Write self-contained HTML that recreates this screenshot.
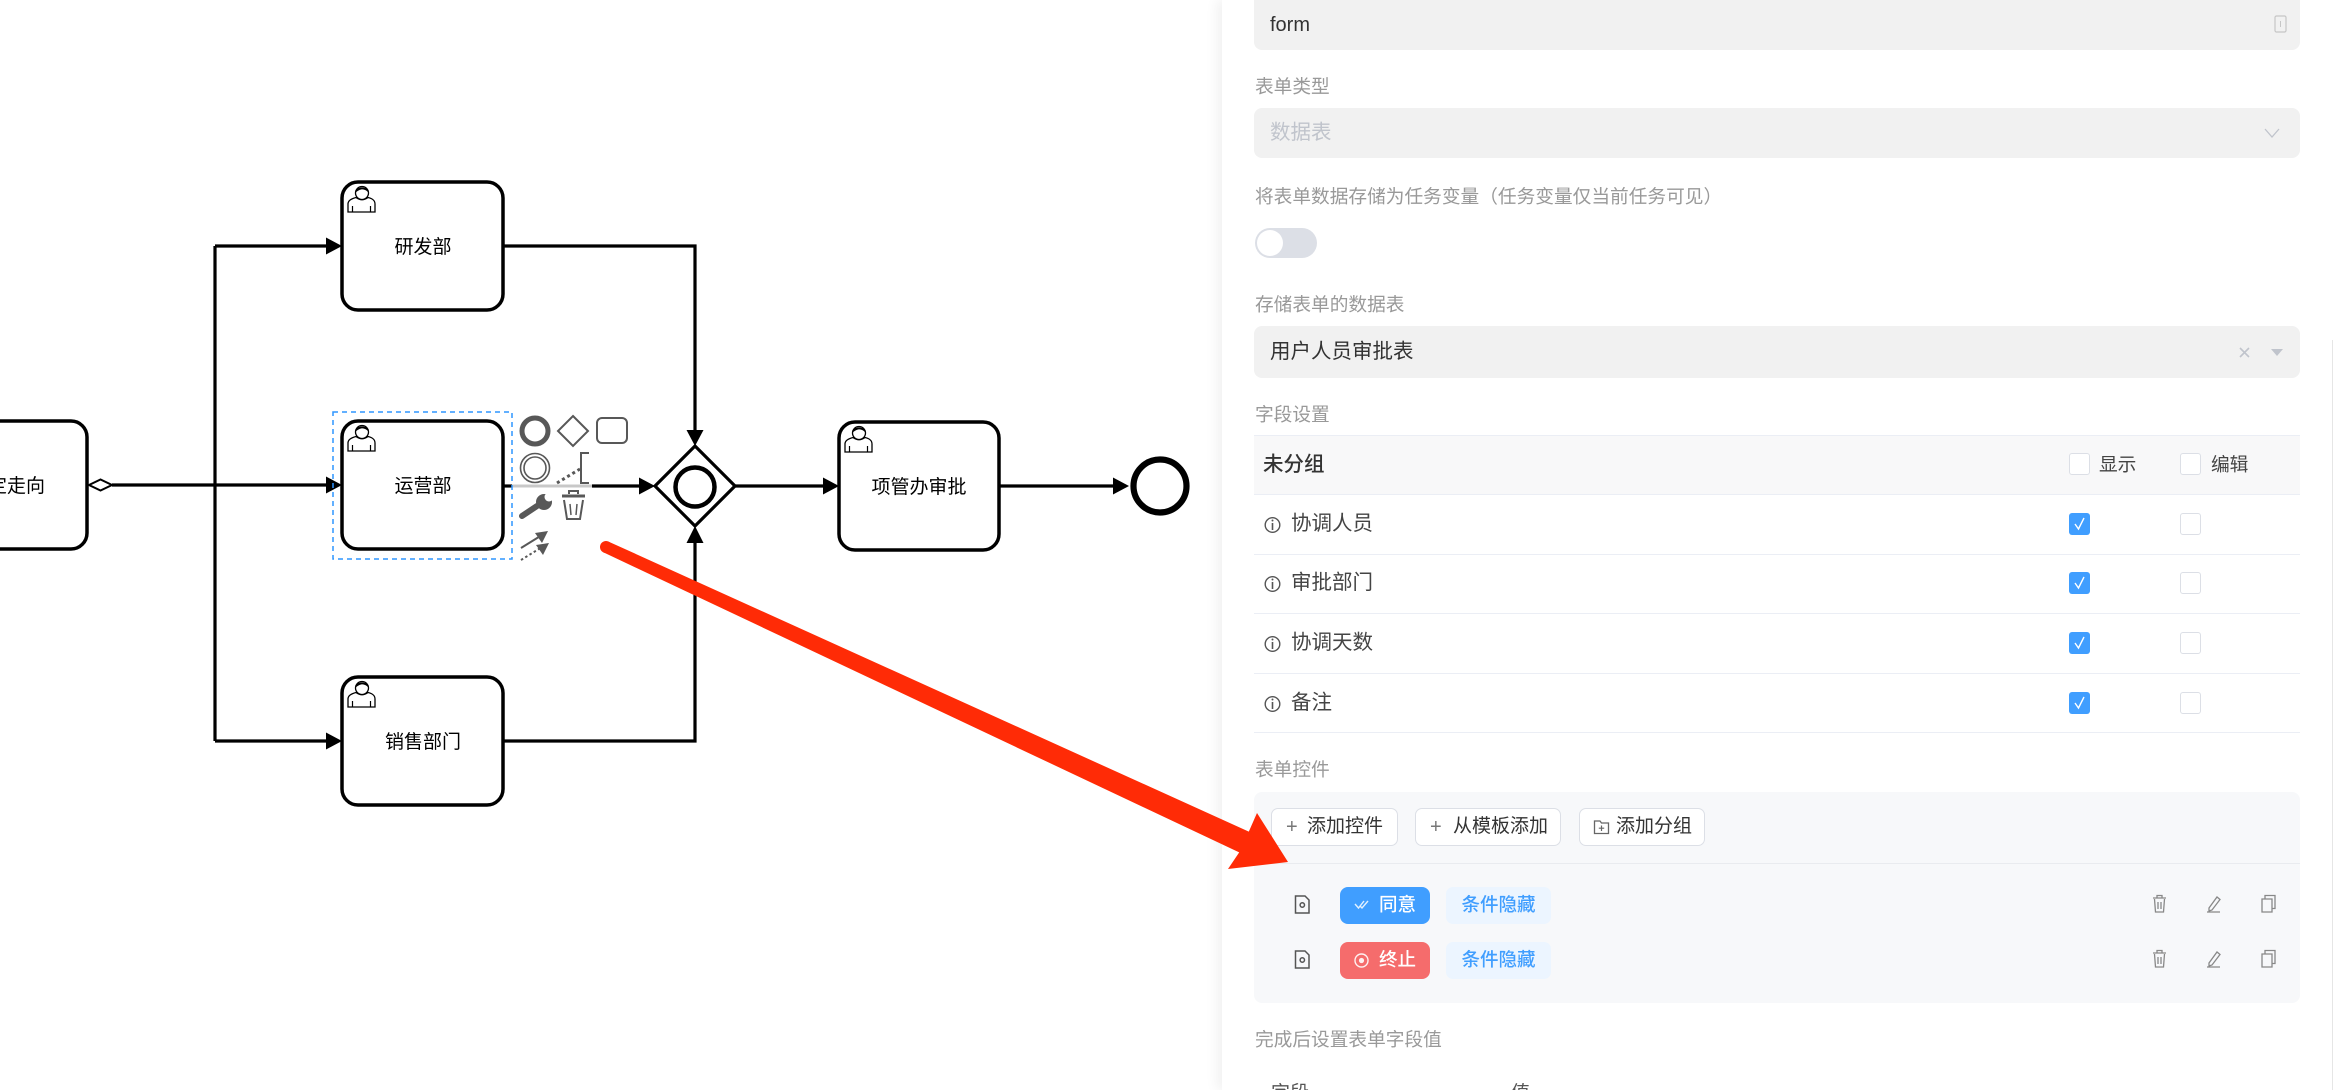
<!DOCTYPE html>
<html><head><meta charset="utf-8">
<style>
*{margin:0;padding:0;box-sizing:border-box}
html,body{width:2334px;height:1090px;overflow:hidden;background:#fff;font-family:"Liberation Sans","Noto Sans CJK SC",sans-serif;position:relative}
.a{position:absolute}
.t{position:absolute;height:30px;line-height:30px;white-space:nowrap}
.lbl{font-size:18.7px;color:#999}
.fld{position:absolute;left:1254px;width:1046px;background:#f1f1f1;border-radius:8px}
.cb{position:absolute;width:21px;height:22px;border:1px solid #dcdfe6;border-radius:3px;background:#fff}
.cbk{position:absolute;width:21px;height:22px;border-radius:3px;background:#409eff}
.row{position:absolute;left:1254px;width:1046px;height:1px;background:#ebeef5}
.rt{font-size:20.5px;color:#444}
.btn{position:absolute;top:808px;height:38px;background:#fff;border:1px solid #dcdfe6;border-radius:7px}
</style></head><body>

<!-- Diagram -->
<svg class="a" style="left:0;top:0" width="1222" height="1090" viewBox="0 0 1222 1090">
<defs>
<g id="user">
  <path d="M6,30 L6,22 C6,18 10,16.5 14,15.5 Q20,20 26,15.5 C30,16.5 33,18 33,22 L33,30 Z" fill="#fff" stroke="#000" stroke-width="1.3"/>
  <line x1="10.5" y1="24" x2="10.5" y2="30" stroke="#000" stroke-width="1.2"/>
  <line x1="28.5" y1="24" x2="28.5" y2="30" stroke="#000" stroke-width="1.2"/>
  <circle cx="20" cy="11" r="6.5" fill="#fff" stroke="#000" stroke-width="1.3"/>
  <path d="M13.5,11 C13,3.5 27,3.5 26.5,11 C25,8 21,7 19,7.5 C17,8 15,9 13.5,11 Z" fill="#000"/>
</g>
</defs>
<g font-family="Liberation Sans, Noto Sans CJK SC, sans-serif" font-size="19" text-anchor="middle" fill="#000">
<!-- lines -->
<g stroke="#000" stroke-width="3.2" fill="none">
  <path d="M112,485 H326"/>
  <path d="M215,246 V741"/>
  <path d="M215,246 H326"/>
  <path d="M215,741 H326"/>
  <path d="M503,246 H695 V430"/>
  <path d="M503,741 H695 V543"/>
  <path d="M503,486 H512"/>
  <path d="M592,486 H640"/>
  <path d="M735,486 H823"/>
  <path d="M999,486 H1113"/>
</g>
<path d="M512,486 H592" stroke="#c8c8c8" stroke-width="3"/>
<!-- arrowheads -->
<g fill="#000">
  <polygon points="326,237.5 342,246 326,254.5"/>
  <polygon points="326,476.5 342,485 326,493.5"/>
  <polygon points="326,732.5 342,741 326,749.5"/>
  <polygon points="686.5,430 695,446 703.5,430"/>
  <polygon points="686.5,543 695,526 703.5,543"/>
  <polygon points="639,477.5 655,486 639,494.5"/>
  <polygon points="823,477.5 839,486 823,494.5"/>
  <polygon points="1113,477.5 1129,486 1113,494.5"/>
</g>
<!-- conditional marker -->
<polygon points="89,485 100.5,479.5 112,485 100.5,490.5" fill="#fff" stroke="#000" stroke-width="2"/>

<!-- tasks -->
<rect x="-73" y="421" width="160" height="128" rx="16" fill="#fff" stroke="#000" stroke-width="3.5"/>
<text x="7" y="492">确定走向</text>

<rect x="342" y="182" width="161" height="128" rx="16" fill="#fff" stroke="#000" stroke-width="3.5"/>
<use href="#user" x="342" y="182"/>
<text x="423" y="253">研发部</text>

<rect x="342" y="421" width="161" height="128" rx="16" fill="#fff" stroke="#000" stroke-width="3.5"/>
<use href="#user" x="342" y="421"/>
<text x="423" y="492">运营部</text>

<rect x="342" y="677" width="161" height="128" rx="16" fill="#fff" stroke="#000" stroke-width="3.5"/>
<use href="#user" x="342" y="677"/>
<text x="423" y="748">销售部门</text>

<rect x="839" y="422" width="160" height="128" rx="16" fill="#fff" stroke="#000" stroke-width="3.5"/>
<use href="#user" x="839" y="422"/>
<text x="919" y="493">项管办审批</text>

<!-- gateway -->
<polygon points="695,446 735,486 695,526 655,486" fill="#fff" stroke="#000" stroke-width="3.2"/>
<circle cx="695" cy="487" r="19.5" fill="none" stroke="#000" stroke-width="4.5"/>

<!-- end event -->
<circle cx="1160" cy="486" r="26.5" fill="#fff" stroke="#000" stroke-width="6.2"/>

<!-- selection -->
<rect x="333" y="412" width="179" height="147" fill="none" stroke="#2f95ff" stroke-width="1.5" stroke-dasharray="5,4"/>

<!-- context pad -->
<g stroke="#585858" fill="none">
  <circle cx="535" cy="431" r="13" stroke-width="5"/>
  <polygon points="573,416 588,431 573,446 558,431" stroke-width="2"/>
  <rect x="597" y="418" width="30" height="25" rx="5" stroke-width="2"/>
  <circle cx="535" cy="468" r="14.5" stroke-width="1.6"/>
  <circle cx="535" cy="468" r="11" stroke-width="1.6"/>
  <path d="M589,453 H581 V483 H589" stroke-width="2"/>
  <path d="M557,483 L580,469" stroke-width="3" stroke-dasharray="3,3"/>
  <line x1="522" y1="516" x2="537" y2="506" stroke-width="6" stroke-linecap="round"/>
  <path d="M562,496 H585" stroke-width="3"/>
  <path d="M569,494 V491 H578 V494" stroke-width="2"/>
  <path d="M564,500 L567,519 H580 L583,500" stroke-width="2"/>
  <path d="M570,504 L571,515 M577,504 L576,515" stroke-width="1.5"/>
  <line x1="521" y1="548" x2="542" y2="535" stroke-width="2"/>
  <line x1="521" y1="560" x2="542" y2="547" stroke-width="2" stroke-dasharray="2.5,2.5"/>
</g>
<circle cx="544" cy="502" r="8" fill="#585858"/>
<circle cx="549" cy="497" r="4.5" fill="#fff"/>
<polygon points="548,531 535,533 542,543" fill="#585858"/>
<polygon points="549,543 536,545 543,555" fill="#585858"/>
</g>
</svg>

<!-- Panel -->
<div class="a" style="left:1222px;top:0;width:1112px;height:1090px;background:#fff;box-shadow:-5px 0 12px rgba(0,0,0,0.06)"></div>
<div class="a" style="left:2332px;top:340px;width:1px;height:750px;background:#e6e6e6"></div>

<!-- form field -->
<div class="fld" style="top:-10px;height:60px"></div>
<div class="t" style="left:1270px;top:10px;font-size:20px;color:#333">form</div>
<svg class="a" style="left:2274px;top:15px" width="14" height="20"><rect x="1" y="1" width="11" height="16" rx="1.5" fill="none" stroke="#c6c6c6" stroke-width="1.2"/><line x1="6.5" y1="6" x2="6.5" y2="12" stroke="#c6c6c6" stroke-width="1"/></svg>

<div class="t lbl" style="left:1255px;top:72px">表单类型</div>
<div class="fld" style="top:108px;height:50px"></div>
<div class="t" style="left:1270px;top:118px;font-size:20.5px;color:#c0c4cc">数据表</div>
<svg class="a" style="left:2263px;top:126px" width="18" height="14"><polyline points="2,3 9,11 16,3" fill="none" stroke="#c0c4cc" stroke-width="1.3"/></svg>

<div class="t lbl" style="left:1255px;top:182px">将表单数据存储为任务变量（任务变量仅当前任务可见）</div>
<div class="a" style="left:1255px;top:228px;width:62px;height:30px;border-radius:15px;background:#dcdfe6"></div>
<div class="a" style="left:1257px;top:230px;width:26px;height:26px;border-radius:13px;background:#fff"></div>

<div class="t lbl" style="left:1255px;top:290px">存储表单的数据表</div>
<div class="fld" style="top:326px;height:52px"></div>
<div class="t" style="left:1270px;top:337px;font-size:20.5px;color:#333">用户人员审批表</div>
<svg class="a" style="left:2238px;top:345px" width="48" height="16"><path d="M2,3 L11,12 M11,3 L2,12" stroke="#c0c4cc" stroke-width="1.6"/><polygon points="33,4 45,4 39,11" fill="#c0c4cc"/></svg>

<div class="t lbl" style="left:1255px;top:400px">字段设置</div>

<!-- table -->
<div class="a" style="left:1254px;top:435px;width:1046px;height:60px;background:#f8f8f9"></div>
<div class="row" style="top:435px"></div>
<div class="row" style="top:494px"></div>
<div class="row" style="top:554px"></div>
<div class="row" style="top:613px"></div>
<div class="row" style="top:673px"></div>
<div class="row" style="top:732px"></div>
<div class="t" style="left:1263px;top:450px;font-size:20.5px;color:#333;font-weight:500">未分组</div>
<div class="cb" style="left:2069px;top:453px"></div>
<div class="t" style="left:2099px;top:450px;font-size:18.7px;color:#444">显示</div>
<div class="cb" style="left:2180px;top:453px"></div>
<div class="t" style="left:2211px;top:450px;font-size:18.7px;color:#444">编辑</div>

<svg class="a" style="left:1262px;top:0" width="22" height="720">
<g fill="none" stroke="#555" stroke-width="1.4">
<circle cx="10.5" cy="525" r="7.3"/><circle cx="10.5" cy="584" r="7.3"/><circle cx="10.5" cy="644" r="7.3"/><circle cx="10.5" cy="704" r="7.3"/>
<path d="M10.5,523 V530 M10.5,582 V589 M10.5,642 V649 M10.5,702 V709" stroke-width="1.6"/>
</g>
<g fill="#555"><circle cx="10.5" cy="520.5" r="1"/><circle cx="10.5" cy="579.5" r="1"/><circle cx="10.5" cy="639.5" r="1"/><circle cx="10.5" cy="699.5" r="1"/></g>
</svg>
<div class="t rt" style="left:1291px;top:509px">协调人员</div>
<div class="t rt" style="left:1291px;top:568px">审批部门</div>
<div class="t rt" style="left:1291px;top:628px">协调天数</div>
<div class="t rt" style="left:1291px;top:688px">备注</div>

<div class="cbk" style="left:2069px;top:513px"></div>
<div class="cbk" style="left:2069px;top:572px"></div>
<div class="cbk" style="left:2069px;top:632px"></div>
<div class="cbk" style="left:2069px;top:692px"></div>
<svg class="a" style="left:2069px;top:0" width="21" height="720"><g fill="none" stroke="#fff" stroke-width="1.4"><polyline points="6,524 9.5,529 15,518"/><polyline points="6,583 9.5,588 15,577"/><polyline points="6,643 9.5,648 15,637"/><polyline points="6,703 9.5,708 15,697"/></g></svg>
<div class="cb" style="left:2180px;top:513px"></div>
<div class="cb" style="left:2180px;top:572px"></div>
<div class="cb" style="left:2180px;top:632px"></div>
<div class="cb" style="left:2180px;top:692px"></div>

<div class="t lbl" style="left:1255px;top:755px">表单控件</div>

<!-- controls container -->
<div class="a" style="left:1254px;top:792px;width:1046px;height:211px;background:#f7f8fa;border-radius:8px"></div>
<div class="a" style="left:1254px;top:863px;width:1046px;height:1px;background:#e9ebef"></div>

<div class="btn" style="left:1271px;width:127px"></div>
<div class="t" style="left:1286px;top:812px;font-size:20px;color:#777">+</div>
<div class="t" style="left:1307px;top:812px;font-size:19px;color:#333">添加控件</div>
<div class="btn" style="left:1415px;width:146px"></div>
<div class="t" style="left:1430px;top:812px;font-size:20px;color:#777">+</div>
<div class="t" style="left:1453px;top:812px;font-size:19px;color:#333">从模板添加</div>
<div class="btn" style="left:1579px;width:126px"></div>
<svg class="a" style="left:1593px;top:818px" width="18" height="18"><path d="M1.5,3 H7 L8.5,5 H15.5 V15.5 H1.5 Z" fill="none" stroke="#666" stroke-width="1.3"/><path d="M8.5,7.5 V13 M5.8,10.2 H11.2" stroke="#666" stroke-width="1.2"/></svg>
<div class="t" style="left:1616px;top:812px;font-size:19px;color:#333">添加分组</div>

<!-- control rows -->
<svg class="a" style="left:1293px;top:894px" width="20" height="80">
<g fill="none" stroke="#555" stroke-width="1.5">
<path d="M2.5,2 H12 L16,6 V19 H2.5 Z"/><circle cx="9.3" cy="11" r="2.2"/>
<path d="M2.5,57 H12 L16,61 V74 H2.5 Z"/><circle cx="9.3" cy="66" r="2.2"/>
</g>
</svg>
<div class="a" style="left:1340px;top:887px;width:90px;height:37px;background:#409eff;border-radius:8px"></div>
<svg class="a" style="left:1354px;top:897px" width="18" height="16"><path d="M1,7 L4.5,11 L10,4 M6,9 L8,11 L14,4" fill="none" stroke="#fff" stroke-width="1.4" opacity="0.85"/></svg>
<div class="t" style="left:1379px;top:890px;font-size:18.5px;color:#fff;font-weight:500">同意</div>
<div class="a" style="left:1446px;top:887px;width:105px;height:37px;background:#ecf5ff;border-radius:7px"></div>
<div class="t" style="left:1446px;top:890px;width:105px;text-align:center;font-size:18.5px;color:#409eff;font-weight:500">条件隐藏</div>

<div class="a" style="left:1340px;top:942px;width:90px;height:37px;background:#f56c6c;border-radius:8px"></div>
<svg class="a" style="left:1353px;top:952px" width="18" height="18"><circle cx="8.5" cy="8.5" r="6.5" fill="none" stroke="#fff" stroke-width="1.4" opacity="0.9"/><circle cx="8.5" cy="8.5" r="2.6" fill="#fff" opacity="0.9"/></svg>
<div class="t" style="left:1379px;top:945px;font-size:18.5px;color:#fff;font-weight:500">终止</div>
<div class="a" style="left:1446px;top:942px;width:105px;height:37px;background:#ecf5ff;border-radius:7px"></div>
<div class="t" style="left:1446px;top:945px;width:105px;text-align:center;font-size:18.5px;color:#409eff;font-weight:500">条件隐藏</div>

<svg class="a" style="left:2150px;top:890px" width="130" height="85">
<g fill="none" stroke="#888" stroke-width="1.3">
<path d="M3,8 H16 M7,8 V5.5 H12 V8 M4.5,9 L5.5,22 H13.5 L14.5,9 M8,12 V19 M11,12 V19"/>
<path d="M57,22 H70 M59,18 L67,7 L70,9.5 L62,20 L59,21 Z"/>
<path d="M112,9 H122 V22 H112 Z M115,9 V5.5 H125 V18.5 H122"/>
<g transform="translate(0,55)">
<path d="M3,8 H16 M7,8 V5.5 H12 V8 M4.5,9 L5.5,22 H13.5 L14.5,9 M8,12 V19 M11,12 V19"/>
<path d="M57,22 H70 M59,18 L67,7 L70,9.5 L62,20 L59,21 Z"/>
<path d="M112,9 H122 V22 H112 Z M115,9 V5.5 H125 V18.5 H122"/>
</g>
</g>
</svg>

<div class="t lbl" style="left:1255px;top:1025px">完成后设置表单字段值</div>
<div class="t" style="left:1271px;top:1079px;font-size:19px;color:#555">字段</div>
<div class="t" style="left:1511px;top:1079px;font-size:19px;color:#555">值</div>

<!-- red annotation arrow -->
<svg class="a" style="left:0;top:0" width="2334" height="1090">
<polygon points="608.5,541.6 1248.8,831.6 1257,813 1288,862 1228,869 1239.2,852.4 603.5,552.4" fill="#ff2b06"/>
<circle cx="606" cy="547" r="6" fill="#ff2b06"/>
</svg>
</body></html>
